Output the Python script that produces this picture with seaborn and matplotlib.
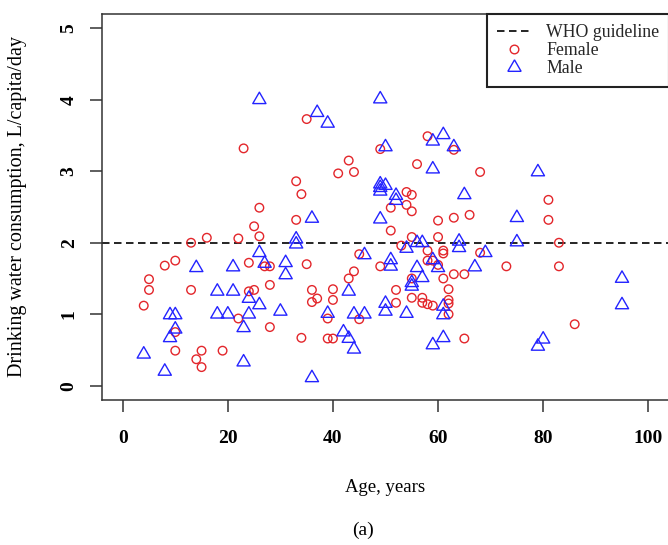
import numpy as np
import pandas as pd
import matplotlib
matplotlib.use("Agg")
import matplotlib.pyplot as plt
import seaborn as sns
from matplotlib.lines import Line2D

# ---------------- data ----------------
female_age = [23, 33, 34, 26, 33, 25, 26, 16, 13, 22, 24, 27, 28, 8, 10, 5, 5, 13, 24, 25,
              28, 4, 22, 28, 10, 34, 10, 15, 19, 14, 15, 35, 58, 63, 49, 43, 56, 41, 44, 68,
              54, 55, 51, 54, 55, 60, 63, 66, 51, 55, 60, 53, 68, 45, 58, 61, 61, 58, 59, 60,
              49, 35, 44, 43, 63, 65, 61, 55, 36, 40, 36, 37, 40, 52, 52, 55, 57, 57, 58, 59,
              62, 62, 62, 62, 39, 45, 39, 40, 65, 81, 81, 83, 73, 83, 86]
female_water = [3.32, 2.86, 2.68, 2.49, 2.32, 2.23, 2.09, 2.07, 2.00, 2.06, 1.72, 1.67, 1.67, 1.68,
                1.75, 1.49, 1.34, 1.34, 1.32, 1.34, 1.41, 1.12, 0.94, 0.82, 0.75, 0.67, 0.49, 0.49,
                0.49, 0.37, 0.26, 3.73, 3.49, 3.30, 3.31, 3.15, 3.10, 2.97, 2.99, 2.99, 2.71, 2.67,
                2.49, 2.53, 2.44, 2.31, 2.35, 2.39, 2.17, 2.08, 2.08, 1.96, 1.86, 1.84, 1.89, 1.89,
                1.85, 1.75, 1.75, 1.69, 1.67, 1.70, 1.60, 1.50, 1.56, 1.56, 1.50, 1.50, 1.34, 1.35,
                1.17, 1.22, 1.20, 1.34, 1.16, 1.23, 1.23, 1.16, 1.14, 1.12, 1.35, 1.20, 1.15, 1.00,
                0.94, 0.93, 0.66, 0.66, 0.66, 2.60, 2.32, 2.00, 1.67, 1.67, 0.86]

male_age = [26, 49, 37, 39, 61, 59, 63, 50, 59, 79, 49, 49, 49, 50, 52, 52, 65, 75, 36, 49,
            33, 33, 56, 57, 54, 64, 64, 75, 26, 27, 31, 31, 14, 21, 46, 69, 59, 51, 51, 60,
            56, 67, 57, 55, 55, 18, 21, 24, 26, 30, 43, 95, 95, 9, 10, 18, 20, 24, 23, 10,
            9, 4, 23, 8, 50, 50, 61, 61, 54, 39, 44, 46, 42, 43, 44, 61, 59, 36, 80, 79]
male_water = [4.00, 4.01, 3.82, 3.67, 3.51, 3.42, 3.34, 3.34, 3.03, 2.99, 2.82, 2.77, 2.72, 2.80,
              2.66, 2.59, 2.67, 2.35, 2.34, 2.33, 2.05, 1.98, 2.00, 2.00, 1.92, 2.02, 1.93, 2.01,
              1.86, 1.71, 1.72, 1.55, 1.65, 1.66, 1.83, 1.86, 1.76, 1.76, 1.67, 1.65, 1.65, 1.66,
              1.51, 1.44, 1.39, 1.32, 1.32, 1.22, 1.13, 1.04, 1.32, 1.50, 1.13, 0.99, 0.99, 1.00,
              1.00, 1.00, 0.81, 0.79, 0.67, 0.44, 0.33, 0.20, 1.15, 1.04, 1.11, 0.99, 1.01, 1.01,
              1.00, 1.00, 0.75, 0.66, 0.51, 0.67, 0.57, 0.11, 0.65, 0.55]

x_ticks = [0, 20, 40, 60, 80, 100]
y_ticks = [0, 1, 2, 3, 4, 5]
who_guideline = 2
legend_labels = ["WHO guideline", "Female", "Male"]

# ---------------- style ----------------
sns.set_theme(style="white")
plt.rcParams["font.family"] = ["Liberation Serif", "DejaVu Serif"]

RED = "#e3262b"
BLUE = "#2323ff"
AXC = "#333333"
TRI = (3, 0, 0)

fig = plt.figure(figsize=(6.68, 5.45), dpi=100)
ax = fig.add_axes([101.7 / 668, 145 / 545, 567.6 / 668, 386 / 545])

df_f = pd.DataFrame({"Age": female_age, "Water": female_water})
df_m = pd.DataFrame({"Age": male_age, "Water": male_water})

sns.scatterplot(data=df_f, x="Age", y="Water", marker="o", s=38, color=RED,
                ax=ax, legend=False, zorder=3)
c = ax.collections[-1]
c.set_facecolor("none"); c.set_edgecolor(RED); c.set_linewidth(1.0)

sns.scatterplot(data=df_m, x="Age", y="Water", marker=TRI, s=120, color=BLUE,
                ax=ax, legend=False, zorder=3)
c = ax.collections[-1]
c.set_facecolor("none"); c.set_edgecolor(BLUE); c.set_linewidth(1.0)

ax.axhline(who_guideline, color="black", lw=1.2, dashes=(4.5, 2.7), zorder=2)

ax.set_xlim(-4, 104)
ax.set_ylim(-0.2, 5.2)
ax.set_xticks(x_ticks)
ax.set_yticks(y_ticks)
ax.set_xticklabels([str(v) for v in x_ticks], fontweight="bold")
ax.set_yticklabels([str(v) for v in y_ticks], fontweight="bold", rotation=90, va="center")
ax.tick_params(direction="out", length=8.3, width=1.1, color=AXC, labelsize=14,
               labelcolor="black")
ax.tick_params(axis="x", pad=13, bottom=True)
ax.tick_params(axis="y", pad=9, left=True)
for sp in ax.spines.values():
    sp.set_color(AXC)
    sp.set_linewidth(1.1)

ax.set_xlabel("Age, years", fontsize=13.5, color="black", va="center")
ax.xaxis.set_label_coords(0.5, (400 - 488) / 386)
ax.set_ylabel("Drinking water consumption, L/capita/day", fontsize=14.5, color="black",
              va="center", ha="center")
ax.yaxis.set_label_coords((18 - 101.7) / 567.6, 0.5)

fig.text(363 / 668, 1 - 530 / 545, "(a)", ha="center", va="center", fontsize=14, color="black")

handles = [
    Line2D([0], [0], color="black", lw=1.2, dashes=(4.5, 2.7)),
    Line2D([0], [0], marker="o", ls="none", mfc="none", mec=RED, ms=6.2, mew=1.0),
    Line2D([0], [0], marker=TRI, ls="none", mfc="none", mec=BLUE, ms=11, mew=1.0),
]
leg = ax.legend(handles, legend_labels, loc="upper right", borderaxespad=0,
                fancybox=False, framealpha=1, edgecolor="#222222", fontsize=12.8,
                handlelength=2.0, handletextpad=0.8, labelspacing=0.06, borderpad=0.55)
leg.get_frame().set_linewidth(1.5)

fig.savefig("out.png", dpi=100)
